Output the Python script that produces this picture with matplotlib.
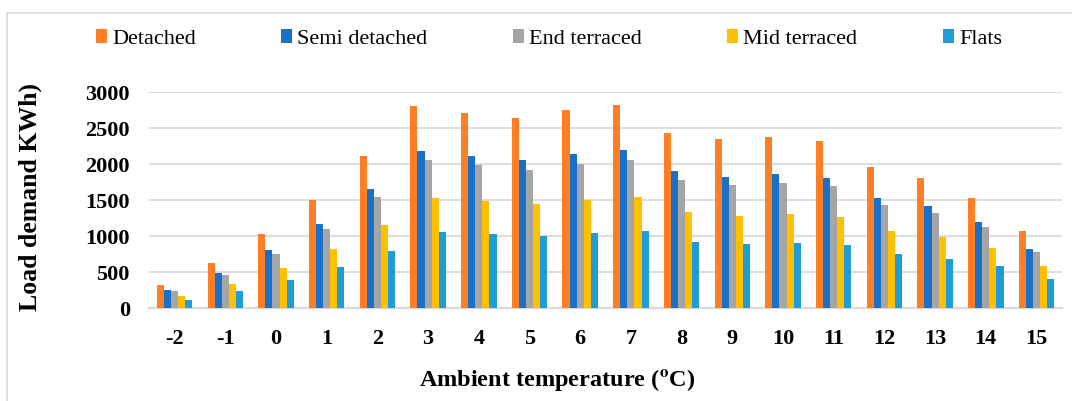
import numpy as np
import matplotlib
matplotlib.use('Agg')
import matplotlib.pyplot as plt
from matplotlib.patches import Rectangle

# ambient temperature categories
temps = ['-2', '-1', '0', '1', '2', '3', '4', '5', '6', '7', '8', '9',
         '10', '11', '12', '13', '14', '15']

# load demand (KWh) per dwelling type
detached = [325, 630, 1030, 1505, 2110, 2810, 2715, 2640, 2750, 2825,
            2440, 2345, 2380, 2320, 1965, 1815, 1535, 1070]
semi_detached = [255, 490, 805, 1175, 1655, 2190, 2120, 2055, 2145, 2200,
                 1905, 1830, 1860, 1805, 1530, 1415, 1195, 830]
end_terraced = [235, 460, 755, 1100, 1540, 2055, 1985, 1925, 2005, 2060,
                1780, 1715, 1735, 1695, 1435, 1325, 1125, 780]
mid_terraced = [170, 340, 560, 820, 1155, 1535, 1485, 1445, 1505, 1545,
                1335, 1280, 1305, 1270, 1075, 990, 840, 585]
flats = [115, 235, 395, 570, 800, 1065, 1030, 1005, 1045, 1075,
         925, 895, 905, 880, 750, 685, 585, 405]

series = [
    ('Detached', detached, '#FF7F27'),
    ('Semi detached', semi_detached, '#1A70C6'),
    ('End terraced', end_terraced, '#A5A5A5'),
    ('Mid terraced', mid_terraced, '#FFC000'),
    ('Flats', flats, '#1F9DD9'),
]

plt.rcParams['font.family'] = ['Liberation Serif', 'DejaVu Serif']
plt.rcParams['mathtext.fontset'] = 'stix'

fig = plt.figure(figsize=(10.72, 4.01), dpi=100)
ax = fig.add_axes([0.1392, 0.2312, 0.8513, 0.5386])

# chart area border
fig.patches.append(Rectangle((7 / 1072, -0.05), 1.1, 1 - 12.5 / 401 + 0.05,
                             transform=fig.transFigure, fill=False,
                             edgecolor='#D9D9D9', linewidth=1.2))

x = np.arange(len(temps))
w = 0.14
for i, (name, vals, col) in enumerate(series):
    ax.bar(x + (i - 2) * w, vals, width=w, color=col, label=name,
           edgecolor='none', zorder=3)

ax.set_xlim(-0.5, len(temps) - 0.5)
ax.set_ylim(0, 3000)
ax.set_yticks(np.arange(0, 3001, 500))
ax.set_xticks(x)
ax.set_xticklabels(temps)
ax.tick_params(axis='both', length=0, labelsize=16)
ax.tick_params(axis='y', pad=14)
ax.tick_params(axis='x', pad=15)
for lbl in ax.get_xticklabels() + ax.get_yticklabels():
    lbl.set_fontweight('bold')

ax.grid(axis='y', color='#D9D9D9', linewidth=1.3, zorder=0)
for s in ['top', 'right', 'left']:
    ax.spines[s].set_visible(False)
ax.spines['bottom'].set_color('#D9D9D9')
ax.spines['bottom'].set_linewidth(1.6)

fig.text(30 / 1072, 1 - 197 / 401, 'Load demand KWh)', rotation=90,
         ha='center', va='center', fontsize=18.5, fontweight='bold')
fig.text(557 / 1072, 1 - 380 / 401, r'Ambient temperature ($^{\mathbf{o}}$C)',
         ha='center', va='center', fontsize=17.5, fontweight='bold')

fig.legend(loc='center', bbox_to_anchor=(549 / 1072, 1 - 39 / 401), ncol=5,
           frameon=False, fontsize=16, handlelength=0.5, handleheight=0.55,
           handletextpad=0.22, columnspacing=3.85, borderaxespad=0)

fig.savefig('out.png', dpi=100)
